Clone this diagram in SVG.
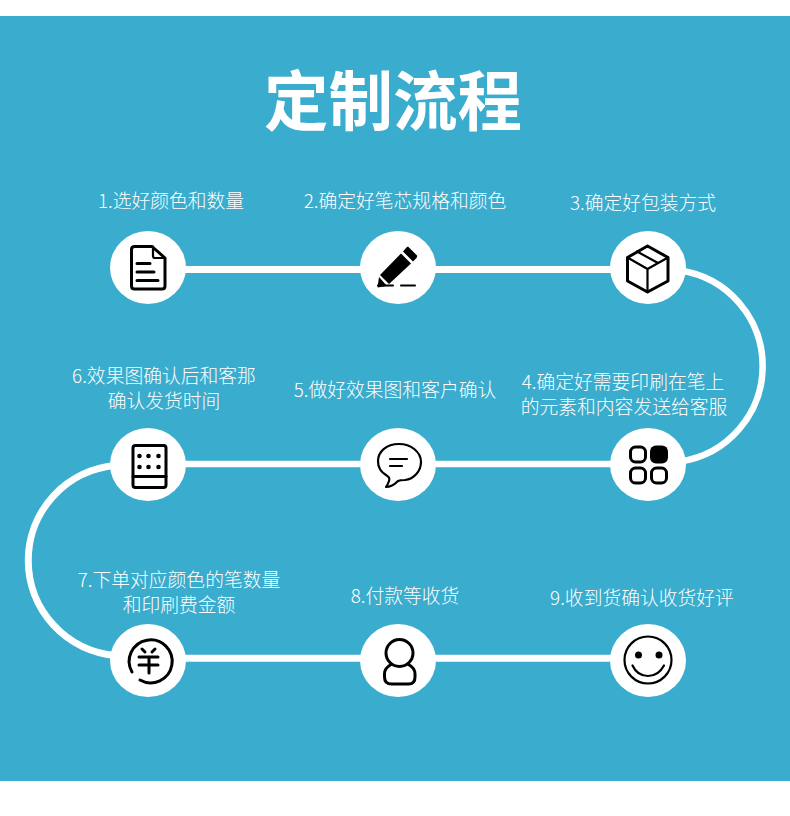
<svg xmlns="http://www.w3.org/2000/svg" width="790" height="816" viewBox="0 0 790 816">
<style>
.t{font-family:"Noto Sans CJK SC","Noto Sans",sans-serif;font-size:18.800px;fill:#fff;text-anchor:middle;font-weight:300}
.c{fill:#fff}
.i{fill:none;stroke:#000;stroke-width:3;stroke-linecap:round;stroke-linejoin:round}
.th{fill:none;stroke:#000;stroke-width:2.2;stroke-linecap:round;stroke-linejoin:round}
.l{fill:none;stroke:#fff;stroke-width:7}
.a{fill:none;stroke:#fff;stroke-width:6.500}
</style>
<rect width="790" height="816" fill="#fff"/>
<rect y="16" width="790" height="765" fill="#3aaccd"/>
<text x="393" y="125" style="font-family:'Noto Sans CJK SC',sans-serif;font-size:64.500px;font-weight:700;fill:#fff;text-anchor:middle">定制流程</text>
<g id="connectors">
<path class="l" d="M148 269.500H648"/>
<path class="a" d="M680 270.500A96.500 96.500 0 0 1 680 461.500"/>
<path class="a" d="M148 464H648"/>
<path class="l" d="M116 465.500A95.300 95.300 0 0 0 116 655.500"/>
<path class="l" d="M148 658.300H648"/>
</g>
<g id="node1"><ellipse class="c" cx="148" cy="267.500" rx="38" ry="36.500"/>
<path class="i" d="M152 246.500H134.500Q131.500 246.500 131.500 249.500V286Q131.500 289 134.500 289H162Q165 289 165 286V258Z"/>
<path class="th" d="M153 246.500V256Q153 258 155 258H165"/><path class="i" d="M137 263.500H150M137 272H154M137 280.500H158"/>
<text class="t" x="171" y="207.500">1.选好颜色和数量</text></g>
<g id="node2"><ellipse class="c" cx="398" cy="267.500" rx="38" ry="36.500"/>
<path d="M408 246.500L417 255.500Q417.500 257 416 258.500L413 261.500L403 251.500L406 248Q407 246.500 408 246.500Z"/>
<path d="M401 253.500L411 263.500L389 284L380 275Z"/>
<path d="M379 277L387 286L377.500 287.500Z"/>
<path class="th" d="M378 285.500H393M401 285.500H415" style="stroke-width:2"/>
<text class="t" x="405" y="207.500">2.确定好笔芯规格和颜色</text></g>
<g id="node3"><ellipse class="c" cx="648" cy="267.500" rx="38" ry="36.500"/>
<path class="i" d="M647.500 246L668 257.500V281L647.500 292L627.500 281V257.500Z"/>
<path class="th" d="M627.500 257.500L647.500 269L668 257.500M647.500 269V292M637 251.500L658 263"/>
<text class="t" x="643" y="209.500">3.确定好包装方式</text></g>
<g id="node4"><ellipse class="c" cx="648" cy="464.500" rx="38" ry="36.500"/>
<rect class="i" x="630.500" y="447" width="15" height="15" rx="5"/>
<rect x="650" y="445.500" width="18" height="18" rx="6"/>
<rect class="i" x="630.500" y="468" width="15" height="15" rx="5"/>
<rect class="i" x="651.500" y="468" width="15" height="15" rx="5"/>
<text class="t" x="623" y="388.500">4.确定好需要印刷在笔上</text>
<text class="t" x="624" y="414">的元素和内容发送给客服</text></g>
<g id="node5"><ellipse class="c" cx="398" cy="464.500" rx="38" ry="36.500"/>
<path class="th" d="M399 444C386 444 378 452 378 461C378 467 381 472 386 475C389 477 390 478 389 481C388 484 387 486 386 487C390 487 395 484 398 481C400 480 402 480 405 480C414 479 421 471 421 462C421 452 411 444 399 444Z"/>
<path class="th" d="M390 459H407M390 466H402"/>
<text class="t" x="395" y="396.500">5.做好效果图和客户确认</text></g>
<g id="node6"><ellipse class="c" cx="148" cy="464.500" rx="38" ry="36.500"/>
<rect class="i" x="133" y="445.500" width="33" height="42" rx="2.500"/>
<path class="i" d="M133 476.500H166"/>
<g><circle cx="139.500" cy="456" r="2.300"/><circle cx="148.500" cy="456" r="2.300"/><circle cx="158.500" cy="456" r="2.300"/><circle cx="139.500" cy="467" r="2.300"/><circle cx="148.500" cy="467" r="2.300"/><circle cx="158.500" cy="467" r="2.300"/></g>
<text class="t" x="164" y="382.500">6.效果图确认后和客那</text>
<text class="t" x="164" y="407.500">确认发货时间</text></g>
<g id="node7"><ellipse class="c" cx="148" cy="660.500" rx="38" ry="36.500"/>
<path class="i" d="M132 672A21.500 21.500 0 1 1 140 680"/>
<path class="i" d="M142 649L145 652M155 649L152 652M139 657H158M139 665H158M149 657V673"/>
<text class="t" x="179" y="586.500">7.下单对应颜色的笔数量</text>
<text class="t" x="179" y="611.500">和印刷费金额</text></g>
<g id="node8"><ellipse class="c" cx="398" cy="660.500" rx="38" ry="36.500"/>
<circle class="i" cx="399.500" cy="653" r="13.500"/>
<path class="i" d="M391 664.500Q384.500 668 384.500 674V677Q384.500 684 391.500 684H408.500Q415 684 415 677V674Q415 668 408.500 664.500"/>
<text class="t" x="405" y="602.500">8.付款等收货</text></g>
<g id="node9"><ellipse class="c" cx="648" cy="660.500" rx="38" ry="36.500"/>
<circle class="th" cx="648" cy="660" r="23.500"/>
<circle cx="638.500" cy="655" r="3.500"/><circle cx="659" cy="655" r="3.500"/>
<path class="th" d="M632.500 665.500C636 673 642 676 648 676C654 676 660 673 664 665.500"/>
<text class="t" x="642" y="604.500">9.收到货确认收货好评</text></g>
</svg>
